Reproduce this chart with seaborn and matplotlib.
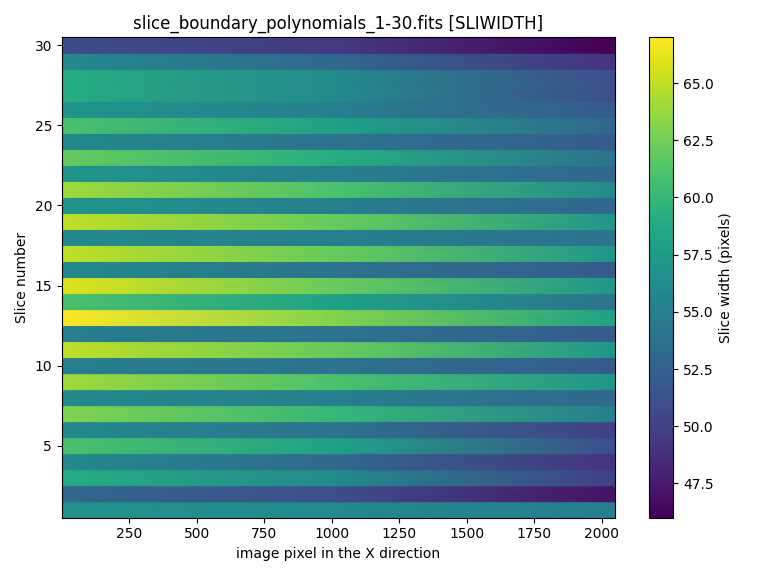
import numpy as np
import matplotlib
matplotlib.use('Agg')
import matplotlib.pyplot as plt
import seaborn as sns

# slice width (pixels) read at x = left, middle, right for slices 1..30
slices = np.arange(1, 31)
x_pos = [1, 1024, 2048]
width_left = [56.5, 53, 59, 56, 61, 56, 63, 56, 64, 55,
              65, 55, 67, 61, 66, 56, 65, 56, 65, 57,
              64, 57, 62, 56, 61, 57, 59, 59, 56, 51]
width_mid = [56, 51, 56, 53, 58, 54, 60, 55, 61, 54,
             62, 54, 63, 58, 62, 54, 62, 55, 62, 55,
             61, 55, 59, 54, 58, 55, 56, 56, 53, 49.5]
width_right = [55, 47, 50, 49, 51, 50, 55, 53, 57, 52,
               57, 52, 58, 54, 57, 52, 57, 54, 57, 53,
               56, 53, 54, 52, 53, 52, 51, 51, 49, 46]

cmap = sns.color_palette("viridis", as_cmap=True)
vmin, vmax = 46, 67

fig, ax = plt.subplots(figsize=(7.68, 5.76), dpi=100)
mesh = None
for s, a, b, c in zip(slices, width_left, width_mid, width_right):
    X, Y = np.meshgrid(x_pos, [s - 0.5, s + 0.5])
    Z = np.array([[a, b, c], [a, b, c]])
    mesh = ax.pcolormesh(X, Y, Z, shading='gouraud', cmap=cmap, vmin=vmin, vmax=vmax)

ax.set_xlim(1, 2048)
ax.set_ylim(0.5, 30.5)
ax.set_xticks([250, 500, 750, 1000, 1250, 1500, 1750, 2000])
ax.set_yticks([5, 10, 15, 20, 25, 30])
ax.set_xlabel('image pixel in the X direction')
ax.set_ylabel('Slice number')
ax.set_title('slice_boundary_polynomials_1-30.fits [SLIWIDTH]')
cb = fig.colorbar(mesh, ax=ax, format='%.1f')
cb.set_ticks(np.arange(47.5, 66, 2.5))
cb.set_label('Slice width (pixels)')
plt.tight_layout()
plt.savefig('out.png', dpi=100)
